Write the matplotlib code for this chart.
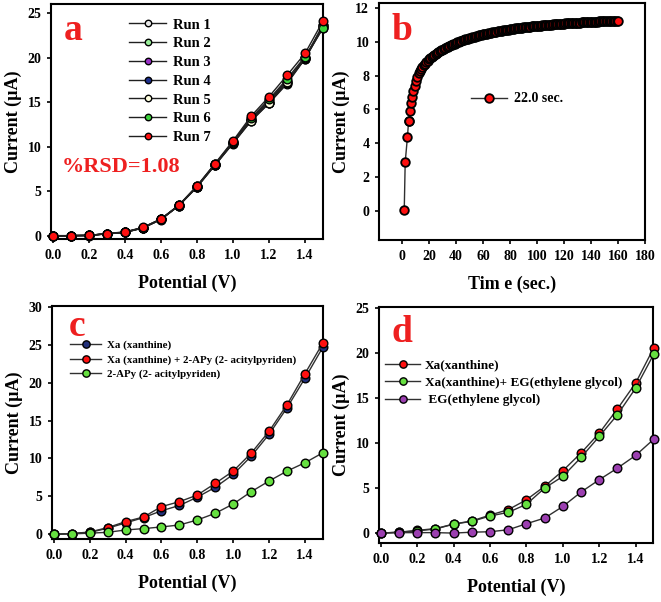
import matplotlib
matplotlib.use("Agg")
import matplotlib.pyplot as plt

plt.rcParams['font.family'] = ['Liberation Serif', 'DejaVu Serif']
plt.rcParams['font.weight'] = 'bold'

# ---------- data ----------
potential = [0.0, 0.1, 0.2, 0.3, 0.4, 0.5, 0.6, 0.7, 0.8, 0.9, 1.0, 1.1, 1.2, 1.3, 1.4, 1.5]
pot_ticks = [0.0, 0.2, 0.4, 0.6, 0.8, 1.0, 1.2, 1.4]
pot_tick_labels = ["0.0", "0.2", "0.4", "0.6", "0.8", "1.0", "1.2", "1.4"]

run_labels = ["Run 1", "Run 2", "Run 3", "Run 4", "Run 5", "Run 6", "Run 7"]
run_colors = ["#E8E8E8", "#9AF09A", "#9B30C8", "#1C2F8C", "#FFFFE0", "#3CD23C", "#FF1010"]
run1 = [0.00, 0.02, 0.05, 0.22, 0.38, 0.88, 1.82, 3.38, 5.45, 7.90, 10.35, 12.85, 14.85, 17.05, 19.85, 23.40]
run2 = [0.00, 0.03, 0.06, 0.24, 0.40, 0.90, 1.85, 3.40, 5.50, 7.95, 10.40, 12.95, 14.95, 17.15, 19.90, 23.30]
run3 = [0.00, 0.02, 0.04, 0.23, 0.39, 0.89, 1.84, 3.42, 5.52, 8.00, 10.45, 13.00, 15.05, 17.30, 20.00, 23.50]
run4 = [0.00, 0.03, 0.05, 0.25, 0.41, 0.91, 1.86, 3.43, 5.55, 8.02, 10.50, 13.10, 15.20, 17.40, 19.80, 23.60]
run5 = [0.00, 0.02, 0.05, 0.24, 0.40, 0.92, 1.87, 3.40, 5.48, 7.95, 10.40, 12.90, 14.90, 17.20, 19.95, 23.70]
run6 = [0.00, 0.03, 0.06, 0.25, 0.42, 0.93, 1.88, 3.44, 5.57, 8.05, 10.55, 13.20, 15.30, 17.60, 20.10, 23.30]
run7 = [0.03, 0.03, 0.05, 0.26, 0.45, 0.95, 1.90, 3.45, 5.60, 8.10, 10.65, 13.40, 15.60, 18.00, 20.45, 24.10]
runs = [run1, run2, run3, run4, run5, run6, run7]

time_early = [1.7, 2.4, 4.1, 4.9, 5.4, 5.9, 7.0, 7.8, 8.5, 9.5, 10.3, 11.5, 12.7, 13.5, 14.4, 15.2, 16.0]
current_early = [0.05, 2.87, 4.39, 5.30, 5.32, 5.91, 6.40, 6.76, 7.10, 7.39, 7.65, 7.90, 8.14, 8.27, 8.40, 8.50, 8.60]
time_late = list(range(17, 161))
current_late = [
    8.70, 8.80, 8.89, 8.97, 9.04, 9.10, 9.16, 9.22, 9.28, 9.33, 9.39, 9.44, 9.49, 9.54,   # 17-30
    9.58, 9.63, 9.67, 9.71, 9.75, 9.79, 9.83, 9.87, 9.90, 9.94,                           # 31-40
    9.97, 10.00, 10.03, 10.06, 10.09, 10.12, 10.14, 10.17, 10.19, 10.22,                  # 41-50
    10.24, 10.27, 10.29, 10.31, 10.33, 10.36, 10.38, 10.40, 10.42, 10.44,                 # 51-60
    10.46, 10.48, 10.49, 10.51, 10.53, 10.55, 10.56, 10.58, 10.60, 10.61,                 # 61-70
    10.63, 10.64, 10.66, 10.67, 10.68, 10.69, 10.71, 10.72, 10.73, 10.74,                 # 71-80
    10.76, 10.77, 10.78, 10.79, 10.80, 10.81, 10.82, 10.83, 10.84, 10.85,                 # 81-90
    10.86, 10.87, 10.88, 10.89, 10.90, 10.91, 10.91, 10.92, 10.93, 10.94,                 # 91-100
    10.95, 10.96, 10.96, 10.97, 10.98, 10.99, 10.99, 11.00, 11.01, 11.02,                 # 101-110
    11.02, 11.03, 11.04, 11.04, 11.05, 11.06, 11.06, 11.07, 11.07, 11.08,                 # 111-120
    11.09, 11.09, 11.10, 11.10, 11.11, 11.11, 11.12, 11.12, 11.13, 11.13,                 # 121-130
    11.14, 11.14, 11.15, 11.15, 11.16, 11.16, 11.17, 11.17, 11.18, 11.18,                 # 131-140
    11.19, 11.19, 11.19, 11.20, 11.20, 11.21, 11.21, 11.21, 11.22, 11.22,                 # 141-150
    11.22, 11.23, 11.23, 11.23, 11.24, 11.24, 11.24, 11.25, 11.25, 11.25]                 # 151-160
time_s = time_early + time_late
current_t = current_early + current_late

c_labels = ["Xa (xanthine)", "Xa (xanthine) + 2-APy (2- acitylpyriden)", "2-APy (2- acitylpyriden)"]
c_colors = ["#22307A", "#FF1010", "#66E040"]
c_xa = [0.0, 0.1, 0.25, 0.8, 1.5, 2.2, 3.1, 3.8, 4.9, 6.2, 7.9, 10.3, 13.2, 16.7, 20.6, 24.7]
c_xa_apy = [0.0, 0.1, 0.3, 0.88, 1.67, 2.28, 3.65, 4.3, 5.18, 6.72, 8.34, 10.7, 13.6, 17.1, 21.2, 25.25]
c_apy = [0.0, 0.05, 0.15, 0.26, 0.57, 0.75, 0.97, 1.23, 1.89, 2.77, 4.0, 5.62, 7.03, 8.34, 9.44, 10.76]

d_labels = ["Xa(xanthine)", "Xa(xanthine)+ EG(ethylene glycol)", " EG(ethylene glycol)"]
d_colors = ["#FF1010", "#66E040", "#9B3FB0"]
d_xa = [0.0, 0.1, 0.3, 0.5, 1.0, 1.35, 2.0, 2.6, 3.7, 5.2, 6.93, 8.9, 11.1, 13.8, 16.67, 20.6]
d_xa_eg = [0.0, 0.1, 0.25, 0.45, 1.0, 1.3, 1.9, 2.3, 3.2, 5.0, 6.3, 8.4, 10.74, 13.15, 16.1, 19.9]
d_eg = [0.0, 0.05, 0.05, 0.05, 0.0, 0.1, 0.15, 0.37, 1.04, 1.67, 2.96, 4.56, 5.93, 7.22, 8.63, 10.44]

W, H = 661, 602
fig = plt.figure(figsize=(W / 100, H / 100), dpi=100)


def ax_at(l, t, r, b):
    return fig.add_axes([l / W, 1 - b / H, (r - l) / W, (b - t) / H])


def style(ax):
    for s in ax.spines.values():
        s.set_linewidth(1.5)
    ax.tick_params(direction='out', length=3, width=1.2, labelsize=10, pad=4)
    for lab in ax.get_xticklabels() + ax.get_yticklabels():
        lab.set_fontweight('bold')


def panel_letter(ax, x_px, y_px, s):
    fig.text(x_px / W, 1 - y_px / H, s, color='#EE2020', fontsize=27,
             fontweight='bold', va='center', ha='center')


lbl_kw = dict(fontsize=13, fontweight='bold')
ms = 6.2

# ---------- panel a ----------
ax = ax_at(51, 4, 323, 239)
for r, c, lab in zip(runs, run_colors, run_labels):
    ax.plot(potential, r, '-o', color='#202020', lw=1.0, ms=ms, mfc=c, mec='black', mew=1.0,
            label=lab, clip_on=False, zorder=3)
ax.set_xlim(-0.01, 1.5)
ax.set_ylim(-0.35, 26)
ax.set_xticks(pot_ticks)
ax.set_xticklabels(pot_tick_labels)
ax.set_yticks([0, 5, 10, 15, 20, 25])
ax.set_xlabel("Potential (V)", labelpad=9, **lbl_kw)
ax.set_ylabel("Current (µA)", labelpad=4, **lbl_kw)
ax.legend(loc='upper left', bbox_to_anchor=(0.24, 0.995), frameon=False,
          prop={'size': 10.5, 'weight': 'bold'}, handlelength=2.5, labelspacing=0.38,
          handletextpad=0.5, markerscale=0.75)
panel_letter(ax, 73, 30, "a")
ax.text(0.04, 0.305, "%RSD=1.08", transform=ax.transAxes, color='#EE2020', fontsize=16,
        fontweight='bold', va='center', ha='left')
style(ax)

# ---------- panel b ----------
ax = ax_at(379, 3, 645, 240)
ax.plot(time_s, current_t, '-o', color='#303030', lw=1.0, ms=ms, mfc='#FF1010', mec='black',
        mew=1.3, label="22.0 sec.", zorder=3)
ax.set_xlim(-17, 178)
ax.set_ylim(-1.74, 12.3)
ax.set_xticks([0, 20, 40, 60, 80, 100, 120, 140, 160, 180])
ax.set_yticks([0, 2, 4, 6, 8, 10, 12])
ax.set_xlabel("Tim e (sec.)", labelpad=9, **lbl_kw)
ax.set_ylabel("Current (µA)", labelpad=4, **lbl_kw)
ax.legend(loc='center left', bbox_to_anchor=(0.3, 0.595), frameon=False,
          prop={'size': 10, 'weight': 'bold'}, handlelength=2.6, handletextpad=0.5)
panel_letter(ax, 402, 30, "b")
style(ax)

# ---------- panel c ----------
ax = ax_at(52, 306, 323, 539)
for ys, c, lab in zip([c_xa, c_xa_apy, c_apy], c_colors, c_labels):
    ax.plot(potential, ys, '-o', color='#303030', lw=1.0, ms=ms, mfc=c, mec='black', mew=1.0,
            label=lab, clip_on=False, zorder=3)
ax.set_xlim(-0.01, 1.5)
ax.set_ylim(-0.62, 30.1)
ax.set_xticks(pot_ticks)
ax.set_xticklabels(pot_tick_labels)
ax.set_yticks([0, 5, 10, 15, 20, 25, 30])
ax.set_xlabel("Potential (V)", labelpad=9, **lbl_kw)
ax.set_ylabel("Current (µA)", labelpad=4, **lbl_kw)
ax.legend(loc='upper left', bbox_to_anchor=(0.03, 0.895), frameon=False,
          prop={'size': 7.8, 'weight': 'bold'}, handlelength=2.9, labelspacing=0.45,
          handletextpad=0.5, markerscale=0.85)
panel_letter(ax, 77, 327, "c")
style(ax)

# ---------- panel d ----------
ax = ax_at(379, 307, 653, 543)
for ys, c, lab in zip([d_xa, d_xa_eg, d_eg], d_colors, d_labels):
    ax.plot(potential, ys, '-o', color='#303030', lw=1.0, ms=ms, mfc=c, mec='black', mew=1.0,
            label=lab, clip_on=False, zorder=3)
ax.set_xlim(-0.01, 1.495)
ax.set_ylim(-1.1, 25.1)
ax.set_xticks(pot_ticks)
ax.set_xticklabels(pot_tick_labels)
ax.set_yticks([0, 5, 10, 15, 20, 25])
ax.set_xlabel("Potential (V)", labelpad=9, **lbl_kw)
ax.set_ylabel("Current (µA)", labelpad=4, **lbl_kw)
ax.legend(loc='upper left', bbox_to_anchor=(-0.02, 0.83), frameon=False,
          prop={'size': 9.5, 'weight': 'bold'}, handlelength=2.6, labelspacing=0.4,
          handletextpad=0.4, markerscale=0.85)
panel_letter(ax, 402, 333, "d")
style(ax)

fig.savefig("out.png", dpi=100)
